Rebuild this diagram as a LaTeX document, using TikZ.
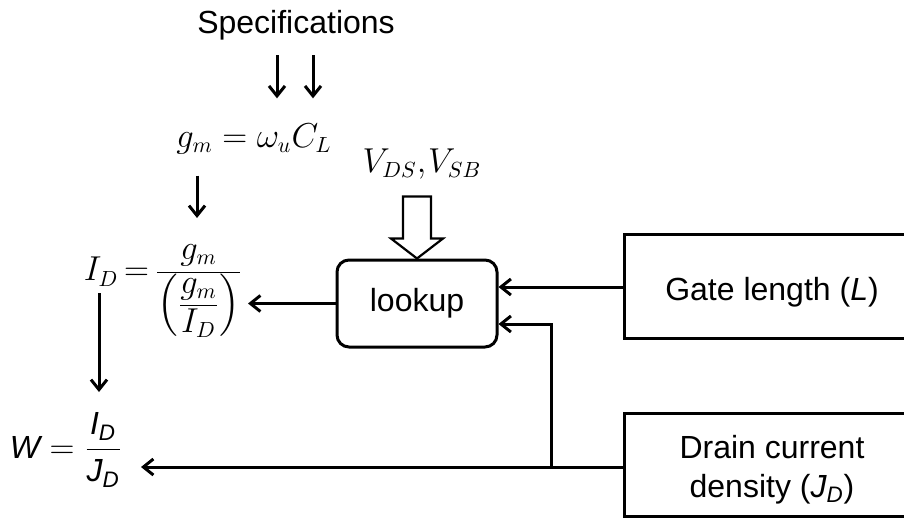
\documentclass[tikz,border=0pt]{standalone}
\usepackage{amsmath}
\usepackage{fontspec}
\setmainfont{Liberation Sans}
\usetikzlibrary{arrows.meta}

\newcommand{\tighteq}{\mathrel{\mkern-2mu=\mkern-2mu}}

\begin{document}
\begin{tikzpicture}[x=0.5pt, y=-0.5pt,
  line width=1.5pt,
  font=\fontsize{16}{19}\selectfont,
  >={Straight Barb[length=5pt,width=8pt]},
  eqn/.style={inner sep=0pt},
  lookupbox/.style={draw, rounded corners=6pt, minimum width=80pt, minimum height=43.5pt},
  inputbox/.style={draw, minimum width=148pt, minimum height=52pt, align=center},
  hollow/.style={line width=1.1pt, fill=white}]

\useasboundingbox (0,0) rectangle (904,519);
\clip (0,0) rectangle (904,519);

% text and equation nodes
\node[eqn] (spec) at (296,25) {Specifications};
\node[eqn] (gm) at (254,139) {$g_m = \omega_u C_L$};
\node[eqn] (vds) at (422,164) {$V_{DS},\mkern-2mu V_{SB}$};
\node[eqn] (ID) at (163,291)
  {$\textstyle I_D \tighteq \frac{\displaystyle g_m\rule[-5.5pt]{0pt}{5.5pt}}{\textstyle\left(\frac{\displaystyle g_m\rule[-5pt]{0pt}{5pt}}{\displaystyle \rule{0pt}{12.5pt}I_D}\right)}$};
\node[eqn] (W) at (66,450) {$\textit{W} = \dfrac{\textit{I}_{\textit{D}}}{\textit{J}_{\textit{D}}}$};

% blocks (labels set slightly below the box centre)
\node[lookupbox] (lookup) at (417,303.5) {lookup};
\node[inputbox] (gate) at (772,286)
  {\raisebox{-3pt}[\height][\depth]{Gate length (\textit{L})}};
\node[inputbox, minimum height=51.5pt] (drain) at (772,464.5)
  {\raisebox{-3pt}[\height][\depth]{\begin{tabular}{@{}c@{}}Drain current\\[0.5pt]density ($\textit{J}_{\textit{D}}$)\end{tabular}}};

% helper coordinates for connector columns and free arrow ends
\coordinate (a1) at (277,0);
\coordinate (a2) at (313,0);
\coordinate (a3) at (197,0);
\coordinate (a4) at (99,293);
\coordinate (idin) at (248,0);
\coordinate (win) at (141,0);
\coordinate (gin) at ([yshift=8.25pt]lookup.east);
\coordinate (din) at ([yshift=-10.25pt]lookup.east);
\coordinate (tap) at (551,0);

% specification arrows
\draw[->, shorten <=7pt, shorten >=12pt] (spec.south -| a1) -- (gm.north -| a1);
\draw[->, shorten <=7pt, shorten >=12pt] (spec.south -| a2) -- (gm.north -| a2);

% equation chain
\draw[->, shorten <=10pt] (gm.south -| a3) -- (a3 |- 0,218);
\draw[->] (a4) -- (a4 |- 0,392);

% lookup connections
\draw[->] (lookup.west) -- (lookup.west -| idin);
\draw[->] (gate.west |- gin) -- (gin);
\draw[->] (drain.west |- 0,467) -- (win |- 0,467);
\draw[->] (tap |- 0,467) -- (tap |- din) -- (din);

% hollow input arrow for bias voltages
\draw[hollow] (lookup.north) -- ++(-26,-20) -- ++(12,0) -- ++(0,-42)
  -- ++(28,0) -- ++(0,42) -- ++(12,0) -- cycle;

\end{tikzpicture}
\end{document}
